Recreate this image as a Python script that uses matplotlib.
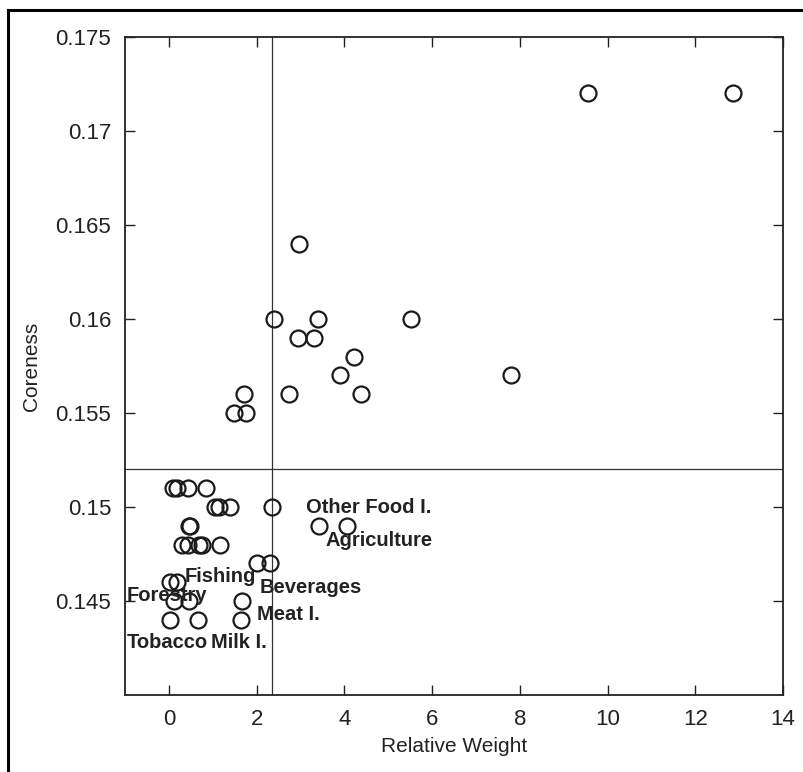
import matplotlib
matplotlib.use("Agg")
import matplotlib.pyplot as plt
from matplotlib.lines import Line2D
from matplotlib.ticker import FuncFormatter

plt.rcParams['font.family'] = ['Liberation Sans', 'DejaVu Sans']

# Data
relative_weight = [9.55, 12.85,
                   2.97,
                   2.40, 3.40, 5.51,
                   2.95, 3.30,
                   4.21,
                   3.89, 7.80,
                   1.72, 2.74, 4.37,
                   1.49, 1.76,
                   0.10, 0.18, 0.43, 0.85,
                   1.05, 1.14, 1.39, 2.36,
                   0.45, 0.48, 3.43, 4.07,
                   0.30, 0.43, 0.68, 0.75, 1.16,
                   2.01, 2.31,
                   0.03, 0.18,
                   0.11, 0.45, 1.67,
                   0.03, 0.66, 1.65]
coreness = [0.172, 0.172,
            0.164,
            0.160, 0.160, 0.160,
            0.159, 0.159,
            0.158,
            0.157, 0.157,
            0.156, 0.156, 0.156,
            0.155, 0.155,
            0.151, 0.151, 0.151, 0.151,
            0.150, 0.150, 0.150, 0.150,
            0.149, 0.149, 0.149, 0.149,
            0.148, 0.148, 0.148, 0.148, 0.148,
            0.147, 0.147,
            0.146, 0.146,
            0.145, 0.145, 0.145,
            0.144, 0.144, 0.144]

sector_labels = ["Other Food I.", "Agriculture", "Fishing", "Forestry",
                 "Beverages", "Meat I.", "Tobacco", "Milk I."]
label_x = [3.12, 3.58, 0.37, -0.97, 2.08, 2.01, -0.95, 0.95]
label_y = [0.1500, 0.1482, 0.1463, 0.1453, 0.1457, 0.1443, 0.1428, 0.1428]

threshold_weight = 2.35
threshold_coreness = 0.152

x_ticks = [0, 2, 4, 6, 8, 10, 12, 14]
y_ticks = [0.145, 0.150, 0.155, 0.160, 0.165, 0.170, 0.175]

fig = plt.figure(figsize=(8.04, 7.72), dpi=100)
ax = fig.add_axes([125 / 804, 1 - 695 / 772, (783 - 125) / 804, (695 - 37) / 772])

ax.plot(relative_weight, coreness, linestyle='none', marker='o',
        markersize=11.5, markerfacecolor='none', markeredgecolor='#1a1a1a',
        markeredgewidth=1.6, zorder=3)

ax.axvline(threshold_weight, color='#333333', linewidth=0.9, zorder=2)
ax.axhline(threshold_coreness, color='#333333', linewidth=0.9, zorder=2)

for name, lx, ly in zip(sector_labels, label_x, label_y):
    ax.text(lx, ly, name, fontsize=14.5, fontweight='bold', color='#222222',
            ha='left', va='center', zorder=4)

ax.set_xlim(-1, 14)
ax.set_ylim(0.14, 0.175)
ax.set_xticks(x_ticks)
ax.set_yticks(y_ticks)
ax.yaxis.set_major_formatter(FuncFormatter(lambda v, p: ('%.3f' % v).rstrip('0')))
ax.tick_params(direction='in', length=7, width=1, top=True, right=True,
               labelsize=16, pad=10, colors='#222222')
for s in ax.spines.values():
    s.set_linewidth(1.3)
    s.set_color('#222222')

ax.set_xlabel('Relative Weight', fontsize=15, color='#222222', labelpad=5)
ax.set_ylabel('Coreness', fontsize=15, color='#222222', labelpad=10)

# outer frame (top and left edges)
fig.add_artist(Line2D([8 / 804, 1.0], [1 - 10 / 772, 1 - 10 / 772],
                      transform=fig.transFigure, color='black', linewidth=2.2))
fig.add_artist(Line2D([8 / 804, 8 / 804], [0.0, 1 - 10 / 772],
                      transform=fig.transFigure, color='black', linewidth=2.2))

fig.savefig('out.png', dpi=100)
